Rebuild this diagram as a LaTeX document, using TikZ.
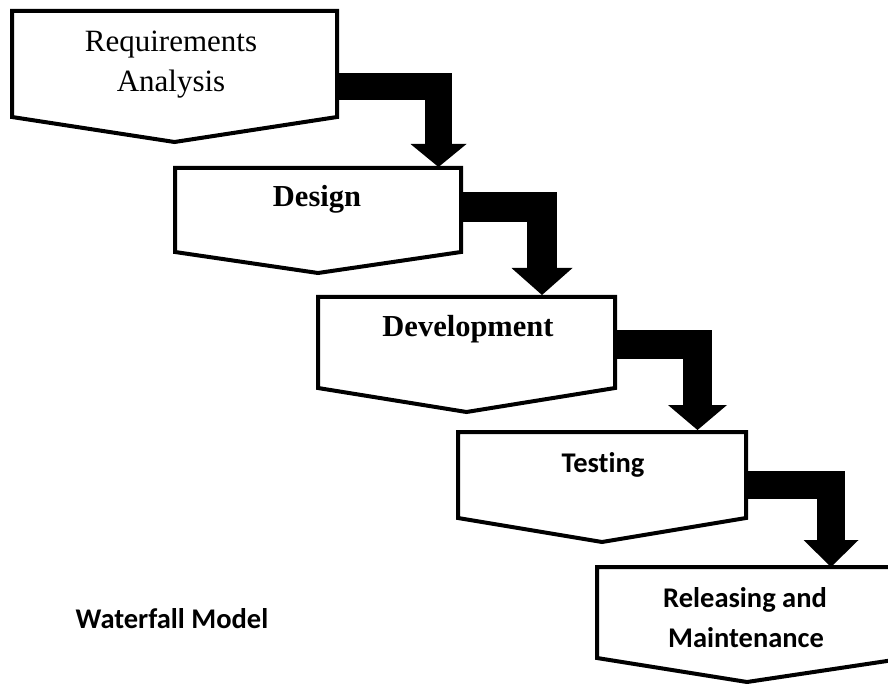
\documentclass[tikz,border=0pt]{standalone}
\usepackage{fontspec}
\setmainfont{Liberation Serif}
\newfontfamily\calib[Ligatures=NoCommon]{Carlito}
\usetikzlibrary{calc}
\begin{document}
\begin{tikzpicture}[x=1pt,y=-1pt,
  stage/.style={rectangle, draw=none, inner sep=0pt, outer sep=0pt},
  stageline/.style={line width=4pt, line join=miter, fill=white},
  bar/.style={line width=#1, line join=miter, line cap=butt},
  serif/.style={font=\fontsize{31}{38}\selectfont, anchor=base, inner sep=0pt},
  serifb/.style={font=\fontsize{30.5}{38}\selectfont\bfseries, anchor=base, inner sep=0pt},
  sans/.style={font=\fontsize{28.5}{34}\selectfont\calib\bfseries, anchor=base, inner sep=0pt}]
\useasboundingbox (0,0) rectangle (888,684);

% stage frames (rectangular part)
\node[stage, minimum width=325pt, minimum height=106pt] (req) at (174.5,64) {};
\node[stage, minimum width=286pt, minimum height=84pt] (des) at (318,210) {};
\node[stage, minimum width=297pt, minimum height=91pt] (dev) at (466.5,342.5) {};
\node[stage, minimum width=288pt, minimum height=86pt] (tst) at (602,475) {};
\node[stage, minimum width=310pt, minimum height=91pt] (rel) at (752,612.5) {};

% pentagon outlines
\draw[stageline] (req.north west) -- (req.north east) -- (req.south east) -- ([yshift=-25pt]req.south) -- (req.south west) -- cycle;
\draw[stageline] (des.north west) -- (des.north east) -- (des.south east) -- ([yshift=-21pt]des.south) -- (des.south west) -- cycle;
\draw[stageline] (dev.north west) -- (dev.north east) -- (dev.south east) -- ([yshift=-24pt]dev.south) -- (dev.south west) -- cycle;
\draw[stageline] (tst.north west) -- (tst.north east) -- (tst.south east) -- ([yshift=-24pt]tst.south) -- (tst.south west) -- cycle;
\draw[stageline] (rel.north west) -- (rel.north east) -- (rel.south east) -- ([xshift=-5pt,yshift=-24pt]rel.south) -- (rel.south west) -- cycle;

% labels
\node[serif] (reqa) at (171,52) {Requirements};
\node[serif] (reqb) at (171,92) {Analysis};
\node[serifb] (desl) at (317,207) {Design};
\node[serifb] (devl) at (468,337) {Development};
\node[sans] (tstl) at (603,472) {Testing};
\node[sans] (rela) at (745,607) {Releasing and};
\node[sans] (relb) at (746,647) {Maintenance};
\node[sans] (title) at (172,628) {Waterfall Model};

% connectors: thick bent bars with triangular heads
\coordinate (t1) at ([xshift=120.5pt,yshift=1pt]des.north);
\draw[bar=27pt] ([yshift=-23pt]req.east) -| ([yshift=23pt]t1);
\fill (t1) -- ++(-28,-23) -- ++(56,0) -- cycle;

\coordinate (t2) at ([xshift=75.5pt,yshift=2pt]dev.north);
\draw[bar=30pt] ([yshift=3pt]des.east) -| ([yshift=27pt]t2);
\fill (t2) -- ++(-30.5,-27) -- ++(61,0) -- cycle;

\coordinate (t3) at ([xshift=95.5pt,yshift=2pt]tst.north);
\draw[bar=29pt] ([yshift=-2pt]dev.east) -| ([yshift=25pt]t3);
\fill (t3) -- ++(-29.5,-25) -- ++(59,0) -- cycle;

\coordinate (t4) at ([xshift=79pt]rel.north);
\draw[bar=28pt] ([yshift=-9.5pt]tst.east) -| ([yshift=27pt]t4);
\fill (t4) -- ++(-27.5,-27) -- ++(55,0) -- cycle;
\end{tikzpicture}
\end{document}
